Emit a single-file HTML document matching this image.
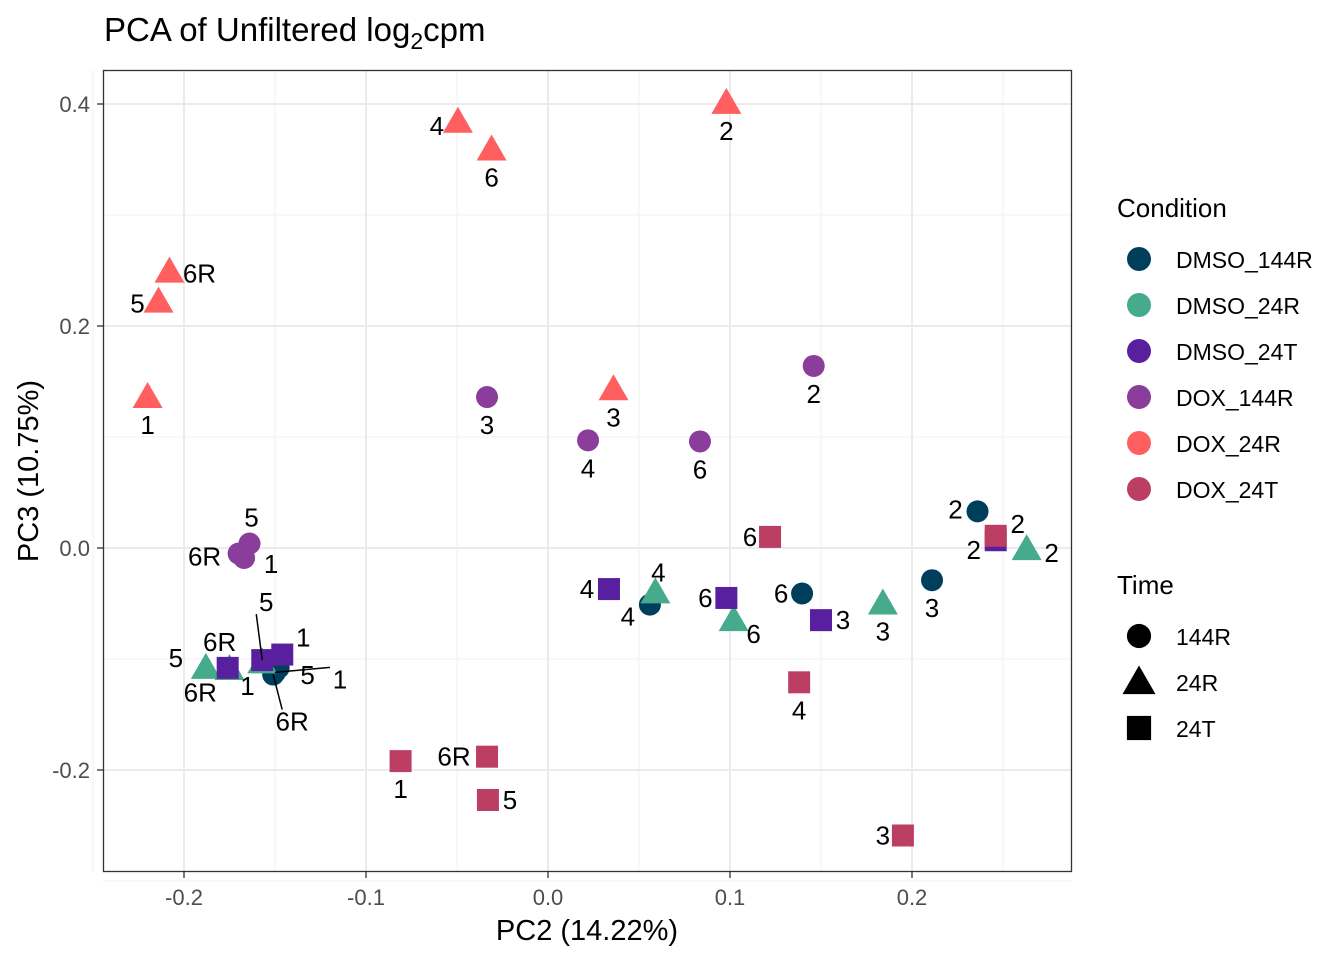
<!DOCTYPE html>
<html><head><meta charset="utf-8"><style>
html,body{margin:0;padding:0;background:#fff;}
svg{display:block;font-family:"Liberation Sans",Arial,sans-serif;}
</style></head><body>
<svg id="chart" width="1344" height="960" viewBox="0 0 1344 960">
<text x="104" y="41" font-size="33" fill="#000">PCA of Unfiltered log<tspan font-size="23" dy="8">2</tspan><tspan dy="-8">cpm</tspan></text>
<g id="grid"></g>
<g id="marks"></g>
<rect x="103.5" y="70.5" width="968" height="801" fill="none" stroke="#333" stroke-width="1.3"/>
<g id="axes"></g>
<text x="587" y="940" font-size="29" text-anchor="middle">PC2 (14.22%)</text>
<text transform="translate(38,471) rotate(-90)" font-size="29" text-anchor="middle">PC3 (10.75%)</text>
<g id="legend"></g>
</svg>
<script>
const conditions=["DMSO_144R","DMSO_24R","DMSO_24T","DOX_144R","DOX_24R","DOX_24T"];
const condColors=["#003F5C","#45AB8C","#58209E","#8A3D9B","#FF5F5F","#BC3F63"];
const times=["144R","24R","24T"];
const xTicks=[-0.2,-0.1,0.0,0.1,0.2];
const xTickLabels=["-0.2","-0.1","0.0","0.1","0.2"];
const yTicks=[-0.2,0.0,0.2,0.4];
const yTickLabels=["-0.2","0.0","0.2","0.4"];
const ptCond=[4,4,4,4,4,4,4, 3,3,3,3,3,3,3, 0,0,0,0,0,0,0, 1,1,1,1,1,1,1, 2,2,2,2,2,2,2, 5,5,5,5,5,5,5];
const ptTime=[1,1,1,1,1,1,1, 0,0,0,0,0,0,0, 0,0,0,0,0,0,0, 1,1,1,1,1,1,1, 2,2,2,2,2,2,2, 2,2,2,2,2,2,2];
const ptLabel=["2","4","6","6R","5","1","3", "3","4","6","2","5","6R","1", "2","3","6","4","1","5","6R", "2","3","6","4","5","1","6R", "2","3","6","4","6R","1","5", "2","6","4","3","1","6R","5"];
const pc2=[0.098,-0.0495,-0.031,-0.208,-0.214,-0.220,0.036, -0.0335,0.022,0.0835,0.146,-0.164,-0.170,-0.167, 0.236,0.211,0.1396,0.056,-0.150,-0.148,-0.151, 0.263,0.184,0.102,0.059,-0.188,-0.175,-0.157, 0.246,0.150,0.098,0.0335,-0.176,-0.146,-0.157, 0.246,0.122,0.138,0.195,-0.081,-0.0335,-0.033];
const pc3=[0.401,0.384,0.359,0.249,0.222,0.136,0.143, 0.136,0.097,0.096,0.164,0.004,-0.005,-0.009, 0.033,-0.029,-0.041,-0.051,-0.112,-0.108,-0.114, -0.001,-0.050,-0.065,-0.040,-0.108,-0.109,-0.103, 0.007,-0.065,-0.045,-0.037,-0.108,-0.096,-0.101, 0.011,0.010,-0.121,-0.259,-0.192,-0.188,-0.227];
// label offsets (styling, px)
const lblDx=[0,-21,0,30,-21,0,0, 0,0,0,0,2,-34,27, -22,0,-21,-22,65,29,19, 25,0,20,3,-30,18,-62, -22,22,-21,-22,-8,21,4, 22,-20,0,-20,0,-33,22];
const lblDy=[28,4,28,2,2,28,28, 28,28,28,28,-26,3,6, -2,28,0,12,7,7,47, 4,28,14,-20,-10,17,30, 10,0,0,0,-26,-17,-58, -12,0,28,0,28,0,0];
const X=v=>548+v*1820, Y=v=>548-v*1110;
const NS="http://www.w3.org/2000/svg";
function mk(tag,attrs,parent){const e=document.createElementNS(NS,tag);for(const k in attrs)e.setAttribute(k,attrs[k]);parent.appendChild(e);return e;}
const grid=document.getElementById('grid'),axes=document.getElementById('axes'),marks=document.getElementById('marks'),legend=document.getElementById('legend');
mk('rect',{x:103,y:70,width:969,height:802,fill:'#fff'},grid);
[-0.25,-0.15,-0.05,0.05,0.15,0.25].forEach(v=>{const l=mk('line',{x1:X(v),x2:X(v),y1:70,y2:872,stroke:'#f2f2f2','stroke-width':1},grid);});
[-0.3,-0.1,0.1,0.3].forEach(v=>{const l=mk('line',{y1:Y(v),y2:Y(v),x1:103,x2:1072,stroke:'#f2f2f2','stroke-width':1},grid);});
xTicks.forEach((v,i)=>{const l=mk('line',{x1:X(v),x2:X(v),y1:70,y2:872,stroke:'#ebebeb','stroke-width':2},grid);
 mk('line',{x1:X(v),x2:X(v),y1:872,y2:878,stroke:'#333','stroke-width':1.3},axes);
 const t=mk('text',{x:X(v),y:905,'font-size':22,'text-anchor':'middle',fill:'#4d4d4d'},axes);t.textContent=xTickLabels[i];
 });
yTicks.forEach((v,i)=>{const l=mk('line',{y1:Y(v),y2:Y(v),x1:103,x2:1072,stroke:'#ebebeb','stroke-width':2},grid);
 mk('line',{y1:Y(v),y2:Y(v),x1:97,x2:103,stroke:'#333','stroke-width':1.3},axes);
 const t=mk('text',{x:90,y:Y(v)+8,'font-size':22,'text-anchor':'end',fill:'#4d4d4d'},axes);t.textContent=yTickLabels[i];
 });
function shape(s,cx,cy,col,parent,sc){sc=sc||1;let e;
 if(s===0)e=mk('circle',{cx:cx,cy:cy,r:11*sc,fill:col},parent);
 else if(s===1)e=mk('polygon',{points:`${cx},${cy-15*sc} ${cx+15*sc},${cy+11*sc} ${cx-15*sc},${cy+11*sc}`,fill:col},parent);
 else e=mk('rect',{x:cx-11*sc,y:cy-11*sc,width:22*sc,height:22*sc,fill:col},parent);
 return e;}
for(let i=0;i<pc2.length;i++){const cx=X(pc2[i]),cy=Y(pc3[i]);
 const e=shape(ptTime[i],cx,cy,condColors[ptCond[i]],marks);
 
 }
for(let i=0;i<pc2.length;i++){const cx=X(pc2[i]),cy=Y(pc3[i]);
 const lx=cx+lblDx[i],ly=cy+lblDy[i];
 if(Math.hypot(lblDx[i],lblDy[i])>40 && ptCond[i]!==1){const ln=mk('line',{x1:cx,y1:cy,x2:lx-Math.sign(lblDx[i])*10,y2:ly-Math.sign(lblDy[i])*12,stroke:'#000','stroke-width':1.5},marks);
  }
 const t=mk('text',{x:lx,y:ly+9,'font-size':26,'text-anchor':'middle',fill:'#000'},marks);t.textContent=ptLabel[i];
 }
let t=mk('text',{x:1117,y:217,'font-size':26},legend);t.textContent='Condition';

conditions.forEach((c,i)=>{const y=259+i*46;const g=mk('g',{},legend);
 
 mk('circle',{cx:1139,cy:y,r:12,fill:condColors[i]},g);
 const tt=mk('text',{x:1176,y:y+9,'font-size':23},g);tt.textContent=c;});
t=mk('text',{x:1117,y:594,'font-size':26},legend);t.textContent='Time';

times.forEach((c,i)=>{const y=636+i*46;const g=mk('g',{},legend);
 
 shape(i,1139,y,'#000',g,1.1);
 const tt=mk('text',{x:1176,y:y+9,'font-size':23},g);tt.textContent=c;});
</script>
</body></html>
